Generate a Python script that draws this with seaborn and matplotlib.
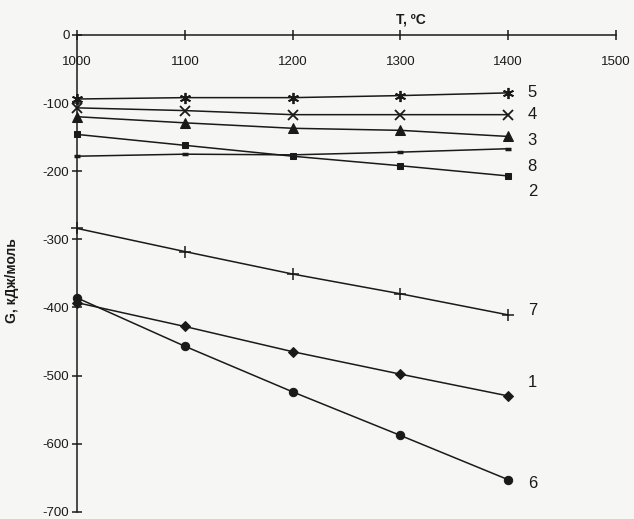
import matplotlib
matplotlib.use('Agg')
import matplotlib.pyplot as plt
import seaborn as sns
import pandas as pd

# temperatures, deg C
temps = [1000, 1100, 1200, 1300, 1400]

# G, kJ/mol for each curve
g_1 = [-393, -428, -465, -498, -530]
g_2 = [-146, -162, -178, -192, -207]
g_3 = [-120, -129, -137, -140, -149]
g_4 = [-107, -111, -117, -117, -117]
g_5 = [-94, -92, -92, -89, -85]
g_6 = [-386, -457, -524, -588, -653]
g_7 = [-284, -318, -351, -380, -411]
g_8 = [-178, -175, -176, -172, -167]

curve_names = ['5', '4', '3', '8', '2', '7', '1', '6']
curve_values = [g_5, g_4, g_3, g_8, g_2, g_7, g_1, g_6]

x_ticks = [1000, 1100, 1200, 1300, 1400, 1500]
y_ticks = [0, -100, -200, -300, -400, -500, -600, -700]

# marker style per curve
markers = {
    '5': dict(marker=(6, 2, 0), markersize=8, markeredgewidth=1.3),
    '4': dict(marker='x', markersize=7, markeredgewidth=1.3),
    '3': dict(marker='^', markersize=6.5),
    '8': dict(marker='_', markersize=5, markeredgewidth=2.5),
    '2': dict(marker='s', markersize=4.5),
    '7': dict(marker='+', markersize=9, markeredgewidth=1.1),
    '1': dict(marker='D', markersize=5.5),
    '6': dict(marker='o', markersize=6),
}
# vertical nudge of the curve numbers (in points)
label_shift = {'5': 0, '4': 0, '3': -3, '8': -13, '2': -11, '7': 3, '1': 10, '6': -3}

sns.set_style('ticks')
plt.rcParams['font.family'] = ['Liberation Sans', 'DejaVu Sans']

fig = plt.figure(figsize=(6.34, 5.19), dpi=100)
fig.patch.set_facecolor('#f6f6f4')
ax = fig.add_axes([0.1215, 0.014, 0.8502, 0.9186])
ax.set_facecolor('#f6f6f4')

ink = '#1a1a1a'
for name, vals in zip(curve_names, curve_values):
    df = pd.DataFrame({'T': temps, 'G': vals})
    sns.lineplot(data=df, x='T', y='G', ax=ax, color=ink, linewidth=1.1,
                 markerfacecolor=ink, markeredgecolor=ink, clip_on=False,
                 **markers[name])
    ax.annotate(name, xy=(temps[-1], vals[-1]), xytext=(14, label_shift[name]),
                textcoords='offset points', ha='left', va='center',
                fontsize=12, color=ink)

ax.set_xlim(1000, 1500)
ax.set_ylim(-700, 0)

sns.despine(ax=ax, top=False, right=True, bottom=True, left=False)
ax.spines['top'].set_color(ink)
ax.spines['left'].set_color(ink)
ax.spines['top'].set_linewidth(1.1)
ax.spines['left'].set_linewidth(1.1)

ax.set_xticks(x_ticks)
ax.set_xticklabels([str(t) for t in x_ticks])
ax.set_yticks(y_ticks)
ax.set_yticklabels([str(t) for t in y_ticks])
ax.tick_params(axis='x', top=True, bottom=False, labeltop=True, labelbottom=False,
               direction='inout', length=7, width=1.1, color=ink,
               pad=-27, labelsize=9.5, labelcolor=ink)
ax.tick_params(axis='y', direction='inout', length=7, width=1.1, color=ink,
               pad=2, labelsize=9.5, labelcolor=ink)

ax.set_xlabel('')
ax.set_ylabel('G, кДж/моль', fontsize=10, fontweight='bold', color=ink)
ax.yaxis.set_label_coords(-0.108, 0.484)
ax.annotate('Т, ºС', xy=(1310, 0), xytext=(0, 6), textcoords='offset points',
            ha='center', va='bottom', fontsize=10, fontweight='bold', color=ink,
            annotation_clip=False)

fig.savefig('out.png', dpi=100, facecolor=fig.get_facecolor())
